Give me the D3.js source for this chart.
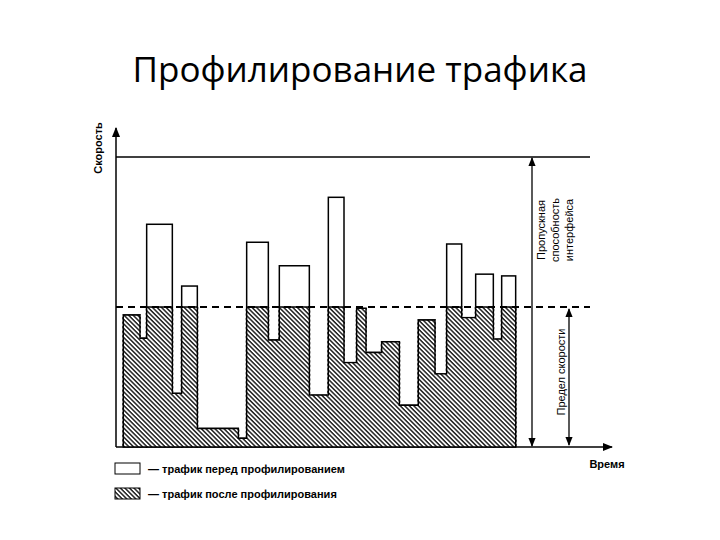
<!DOCTYPE html>
<html><head><meta charset="utf-8">
<script src="https://cdn.jsdelivr.net/npm/d3@7"></script>
<style>body{margin:0;background:#fff}</style></head>
<body><svg id="c" width="720" height="540"></svg>
<script>
// Segment boundaries (time) and original traffic rate per segment
const edges = [0,5,7,14.7,17.5,22.2,34.5,37,43.5,46.8,55.8,61.5,66.2,70,72.8,77.5,82.8,88.5,93.5,97,101.5,105.7,111,113.5,117.7];
const before = [45.5,37.5,76.8,18.5,55.5,6.4,3,70.6,36.9,62.5,17.9,86.1,29.1,47.8,32.6,36.3,14.4,43.8,25.2,70,44.6,59.6,37.2,59];
const limit = 48.3, capacity = 100;
const title = "Профилирование трафика";
const legendLabels = ["— трафик перед профилированием","— трафик после профилирования"];

const svg = d3.select("#c");
const x = d3.scaleLinear().domain([-2.2,146.6]).range([116,612]);
const y = d3.scaleLinear().domain([0,100]).range([447,157]);
const F = "'Liberation Sans',Arial,sans-serif";

const defs = svg.append("defs");
const pat = defs.append("pattern").attr("id","h").attr("patternUnits","userSpaceOnUse")
  .attr("width",3.2).attr("height",3.2).attr("patternTransform","rotate(45)");
pat.append("rect").attr("width",3.2).attr("height",3.2).attr("fill","#fff");
pat.append("rect").attr("width",3.2).attr("height",1.5).attr("fill","#222");
const arrow = defs.append("marker").attr("id","a").attr("viewBox","0 0 10 10").attr("refX",9).attr("refY",5)
  .attr("markerWidth",7).attr("markerHeight",7).attr("orient","auto-start-reverse");
arrow.append("path").attr("d","M0,1L10,5L0,9z").attr("fill","#000");

svg.append("text").attr("x",360).attr("y",82).attr("text-anchor","middle")
  .attr("font-family","'Open Sans',sans-serif").attr("font-size",35).text(title);

const data = before.map((v,i)=>({x0:edges[i],x1:edges[i+1],v,after:Math.min(v,limit)}));
const g = svg.append("g");
g.selectAll("rect.b").data(data).join("rect").attr("class","b")
  .attr("x",d=>x(d.x0)).attr("width",d=>x(d.x1)-x(d.x0))
  .attr("y",d=>y(d.v)).attr("height",d=>y(0)-y(d.v))
  .attr("fill","#fff").attr("stroke","#000").attr("stroke-width",1.5);
g.selectAll("rect.a").data(data).join("rect").attr("class","a")
  .attr("x",d=>x(d.x0)-1).attr("width",d=>x(d.x1)-x(d.x0)+2)
  .attr("y",d=>y(d.after)).attr("height",d=>y(0)-y(d.after))
  .attr("fill","url(#h)");
// stepped outline of shaped traffic
const steps=[];data.forEach(d=>{steps.push([d.x0,d.after]);steps.push([d.x1,d.after]);});
g.append("path").attr("d",d3.line().x(p=>x(p[0])).y(p=>y(p[1]))([[0,0],...steps,[117.7,0]]))
  .attr("fill","none").attr("stroke","#000").attr("stroke-width",1.4);

// capacity and limit lines
svg.append("line").attr("x1",x(-2.2)).attr("x2",590).attr("y1",y(capacity)).attr("y2",y(capacity)).attr("stroke","#000").attr("stroke-width",1.5);
svg.append("line").attr("x1",x(-2.2)).attr("x2",590).attr("y1",y(limit)).attr("y2",y(limit)).attr("stroke","#000").attr("stroke-width",2).attr("stroke-dasharray","7,5");

// axes
svg.append("line").attr("x1",x(-2.2)).attr("x2",x(-2.2)).attr("y1",y(0)).attr("y2",y(110)).attr("stroke","#000").attr("stroke-width",1.5).attr("marker-end","url(#a)");
svg.append("line").attr("x1",x(-2.2)).attr("x2",x(146.6)).attr("y1",y(0)).attr("y2",y(0)).attr("stroke","#000").attr("stroke-width",1.5).attr("marker-end","url(#a)");
svg.append("text").attr("transform",`translate(102,${148}) rotate(-90)`).attr("text-anchor","middle")
  .attr("font-family",F).attr("font-size",11).attr("font-weight","bold").text("Скорость");
svg.append("text").attr("x",607).attr("y",468).attr("text-anchor","middle")
  .attr("font-family",F).attr("font-size",11).attr("font-weight","bold").text("Время");

// dimension arrows
svg.append("line").attr("x1",532).attr("x2",532).attr("y1",y(capacity)+1).attr("y2",y(0)-1).attr("stroke","#000").attr("stroke-width",1.3)
  .attr("marker-start","url(#a)").attr("marker-end","url(#a)");
svg.append("line").attr("x1",569).attr("x2",569).attr("y1",y(limit)+2).attr("y2",y(0)-2).attr("stroke","#000").attr("stroke-width",1.3)
  .attr("marker-start","url(#a)").attr("marker-end","url(#a)");
["Пропускная","способность","интерфейса"].forEach((t,i)=>{
  svg.append("text").attr("transform",`translate(${545+i*14},230) rotate(-90)`).attr("text-anchor","middle")
    .attr("font-family",F).attr("font-size",11).text(t);
});
svg.append("text").attr("transform",`translate(565,372) rotate(-90)`).attr("text-anchor","middle")
  .attr("font-family",F).attr("font-size",11).text("Предел скорости");

// legend
[0,1].forEach(i=>{
  svg.append("rect").attr("x",115).attr("y",463+i*25).attr("width",25).attr("height",11)
    .attr("fill",i?"url(#h)":"#fff").attr("stroke","#000").attr("stroke-width",1);
  svg.append("text").attr("x",148).attr("y",473+i*25).attr("font-family",F).attr("font-size",11)
    .attr("font-weight","bold").text(legendLabels[i]);
});
</script></body></html>
